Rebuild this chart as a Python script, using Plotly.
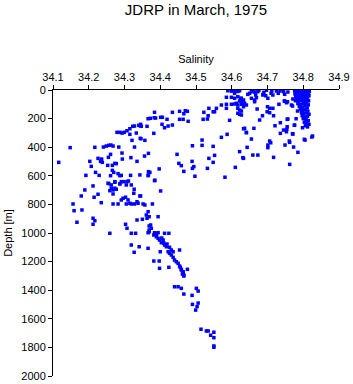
import plotly.graph_objects as go

title_text = "JDRP in March, 1975"
x_title = "Salinity"
y_title = "Depth [m]"

x_ticks = [34.1, 34.2, 34.3, 34.4, 34.5, 34.6, 34.7, 34.8, 34.9]
x_tick_labels = ["34.1", "34.2", "34.3", "34.4", "34.5", "34.6", "34.7", "34.8", "34.9"]
y_ticks = [0, 200, 400, 600, 800, 1000, 1200, 1400, 1600, 1800, 2000]

# Intermediate water (left branch, 200-700 m)
sal_mid = [34.116, 34.148, 34.217, 34.241, 34.249, 34.256, 34.262, 34.268, 34.284, 34.279,
           34.287, 34.293, 34.299, 34.307, 34.315, 34.323, 34.328, 34.340, 34.345, 34.363,
           34.366, 34.315, 34.333, 34.321, 34.346, 34.357, 34.328, 34.356, 34.367, 34.293,
           34.294, 34.318, 34.335, 34.226, 34.236, 34.238, 34.233, 34.255, 34.261, 34.266,
           34.273, 34.277, 34.253, 34.203, 34.207, 34.219, 34.192, 34.229, 34.266, 34.270,
           34.261, 34.282, 34.287, 34.291, 34.317, 34.343, 34.367, 34.256, 34.273, 34.287,
           34.298, 34.311, 34.367]
dep_mid = [506, 403, 401, 399, 392, 387, 385, 392, 399, 296,
           296, 301, 296, 285, 271, 254, 252, 247, 252, 254,
           201, 310, 301, 352, 341, 352, 399, 462, 443, 441,
           483, 473, 499, 478, 483, 506, 499, 471, 450, 527,
           513, 515, 527, 499, 534, 576, 597, 597, 562, 576,
           599, 585, 599, 597, 597, 594, 594, 655, 645, 655,
           641, 636, 571]

# Upper-middle scatter (34.35-34.65, 0-650 m)
sal_up = [34.589, 34.599, 34.608, 34.617, 34.622, 34.608, 34.585, 34.599, 34.608, 34.617,
          34.625, 34.645, 34.622, 34.613, 34.631, 34.571, 34.585, 34.599, 34.608, 34.617,
          34.627, 34.636, 34.641, 34.585, 34.617, 34.622, 34.627, 34.617, 34.622, 34.536,
          34.557, 34.522, 34.548, 34.552, 34.534, 34.520, 34.532, 34.384, 34.434, 34.454,
          34.470, 34.476, 34.466, 34.372, 34.383, 34.387, 34.401, 34.406, 34.419, 34.454,
          34.464, 34.478, 34.345, 34.347, 34.405, 34.412, 34.422, 34.434, 34.594, 34.633,
          34.641, 34.344, 34.382, 34.587, 34.571, 34.517, 34.490, 34.517, 34.548, 34.643,
          34.622, 34.447, 34.536, 34.552, 34.548, 34.633, 34.489, 34.452, 34.459, 34.490,
          34.494, 34.532, 34.610, 34.397, 34.466, 34.371, 34.366, 34.497, 34.581, 34.385]
dep_up = [5, 8, 6, 10, 5, 23, 51, 51, 58, 47,
          58, 30, 77, 93, 82, 105, 100, 100, 98, 105,
          100, 93, 105, 128, 128, 140, 147, 163, 170, 128,
          128, 156, 152, 152, 180, 205, 203, 156, 156, 149,
          145, 149, 166, 198, 194, 196, 191, 191, 205, 205,
          205, 219, 240, 254, 240, 264, 252, 245, 212, 271,
          299, 338, 303, 310, 331, 350, 390, 387, 394, 401,
          431, 450, 478, 457, 506, 478, 499, 513, 529, 548,
          536, 548, 541, 552, 569, 576, 599, 603, 610, 631]

# Upper right (34.62-34.78, 0-520 m)
sal_ur = [34.650, 34.655, 34.662, 34.665, 34.667, 34.673, 34.676, 34.688, 34.690, 34.697,
          34.710, 34.712, 34.725, 34.730, 34.735, 34.745, 34.748, 34.627, 34.633, 34.627,
          34.633, 34.655, 34.664, 34.669, 34.664, 34.687, 34.695, 34.701, 34.715, 34.627,
          34.671, 34.686, 34.700, 34.706, 34.699, 34.706, 34.715, 34.717, 34.732, 34.748,
          34.756, 34.767, 34.771, 34.755, 34.736, 34.721, 34.678, 34.636, 34.662, 34.641,
          34.755, 34.745, 34.753, 34.736, 34.776, 34.771, 34.762, 34.655, 34.706, 34.709,
          34.701, 34.701, 34.749, 34.773, 34.785, 34.805, 34.824, 34.631, 34.659, 34.673,
          34.717, 34.762, 34.757, 34.747, 34.753, 34.770, 34.784, 34.757, 34.780, 34.775,
          34.754, 34.798, 34.761, 34.803, 34.826, 34.770]
dep_ur = [23, 12, 7, 16, 35, 12, 2, 30, 16, 2,
          23, 7, 7, 23, 7, 12, 30, 58, 70, 82,
          117, 58, 70, 54, 82, 35, 40, 58, 35, 175,
          133, 180, 117, 128, 152, 159, 128, 180, 100, 77,
          82, 105, 63, 205, 229, 250, 210, 268, 268, 296,
          257, 280, 292, 303, 245, 308, 366, 343, 357, 369,
          385, 403, 385, 399, 436, 350, 329, 473, 455, 455,
          471, 520, 14, 77, 89, 112, 147, 203, 201, 247,
          275, 264, 357, 345, 322, 306]

# Near-surface dense column around 34.8
sal_col = [34.776, 34.783, 34.790, 34.797, 34.803, 34.810, 34.817, 34.778, 34.786, 34.794,
           34.801, 34.808, 34.815, 34.777, 34.784, 34.792, 34.799, 34.806, 34.813, 34.779,
           34.788, 34.796, 34.803, 34.811, 34.816, 34.781, 34.790, 34.798, 34.806, 34.812,
           34.778, 34.787, 34.795, 34.802, 34.809, 34.815, 34.785, 34.793, 34.800, 34.807,
           34.814, 34.789, 34.797, 34.804, 34.811, 34.792, 34.799, 34.806, 34.813, 34.795,
           34.802, 34.810, 34.816, 34.797, 34.805, 34.812, 34.800, 34.808, 34.814, 34.803,
           34.810, 34.816, 34.806, 34.812]
dep_col = [5, 3, 5, 2, 6, 4, 8, 15, 18, 12,
           16, 14, 20, 28, 32, 26, 30, 34, 28, 45,
           42, 48, 44, 50, 40, 58, 62, 56, 64, 60,
           75, 80, 72, 78, 84, 76, 95, 100, 92, 98,
           104, 115, 120, 112, 125, 135, 142, 138, 148, 158,
           165, 160, 170, 180, 188, 184, 200, 208, 215, 225,
           232, 240, 250, 258]

# Deep branch (600-1300 m)
sal_deep = [34.189, 34.212, 34.179, 34.215, 34.226, 34.235, 34.156, 34.159, 34.181, 34.167,
            34.212, 34.217, 34.212, 34.254, 34.263, 34.273, 34.287, 34.291, 34.305, 34.307,
            34.319, 34.327, 34.263, 34.268, 34.273, 34.277, 34.268, 34.259, 34.296, 34.291,
            34.303, 34.310, 34.315, 34.326, 34.343, 34.268, 34.282, 34.305, 34.319, 34.328,
            34.335, 34.352, 34.338, 34.366, 34.361, 34.363, 34.369, 34.335, 34.350, 34.303,
            34.307, 34.259, 34.319, 34.331, 34.369, 34.369, 34.319, 34.341, 34.327, 34.366,
            34.384, 34.401, 34.345, 34.378, 34.357, 34.394, 34.373, 34.375, 34.369, 34.366,
            34.384, 34.394, 34.382, 34.389, 34.394, 34.398, 34.408, 34.403, 34.412, 34.417,
            34.426, 34.431, 34.422, 34.426, 34.436, 34.431, 34.436, 34.440, 34.445, 34.450,
            34.454, 34.456, 34.459, 34.464, 34.466, 34.412, 34.424, 34.454, 34.400, 34.382,
            34.397, 34.398, 34.424, 34.476, 34.390, 34.404, 34.410, 34.419]
dep_deep = [699, 671, 741, 750, 729, 788, 797, 844, 839, 925,
            897, 914, 939, 652, 664, 641, 657, 641, 664, 641,
            664, 694, 687, 699, 687, 694, 727, 704, 757, 769,
            750, 769, 792, 722, 741, 797, 797, 797, 797, 797,
            781, 797, 792, 851, 874, 897, 886, 909, 904, 939,
            967, 1002, 1002, 1002, 991, 951, 1084, 1096, 1135, 1107,
            634, 706, 741, 797, 804, 886, 944, 967, 979, 998,
            998, 998, 1014, 1026, 1037, 1049, 1049, 1068, 1084, 1096,
            1100, 1119, 1131, 1142, 1131, 1154, 1170, 1189, 1201, 1212,
            1231, 1240, 1254, 1271, 1294, 1002, 1002, 1119, 1131, 1196,
            1196, 1247, 1240, 1254, 1007, 1035, 1070, 1077]

# Bottom (1250-1800 m)
sal_bot = [34.459, 34.464, 34.466, 34.462, 34.440, 34.450, 34.459, 34.466, 34.501, 34.506,
           34.489, 34.506, 34.490, 34.503, 34.499, 34.514, 34.529, 34.534, 34.550, 34.541,
           34.550, 34.550, 34.550]
dep_bot = [1259, 1282, 1301, 1287, 1376, 1376, 1387, 1427, 1387, 1406,
           1436, 1490, 1499, 1515, 1539, 1673, 1685, 1685, 1694, 1715,
           1732, 1790, 1799]

salinity = sal_mid + sal_up + sal_ur + sal_col + sal_deep + sal_bot
depth = dep_mid + dep_up + dep_ur + dep_col + dep_deep + dep_bot

FONT = "Liberation Sans, Arial, Helvetica, sans-serif"

fig = go.Figure(go.Scatter(
    x=salinity, y=depth, mode="markers",
    marker=dict(symbol="square", size=3.5, color="#0000ff", line=dict(width=0)),
    showlegend=False, hoverinfo="x+y",
))

fig.update_layout(
    width=353, height=384,
    margin=dict(l=53, r=14, t=90, b=8, autoexpand=False),
    paper_bgcolor="white", plot_bgcolor="white",
    font=dict(family=FONT, size=11, color="black"),
    title=dict(text=title_text, x=0.5, xref="paper", xanchor="center",
               y=1 - 10 / 384, yref="container", yanchor="middle",
               font=dict(family=FONT, size=15, color="black")),
)

fig.update_xaxes(
    side="top", range=[34.1, 34.9], tickvals=x_ticks, ticktext=x_tick_labels,
    automargin=False,
    showgrid=False, zeroline=False, showline=True, linecolor="black", linewidth=1,
    ticks="outside", ticklen=4, tickcolor="black", tickwidth=1,
    tickfont=dict(family=FONT, size=11, color="black"),
    title=dict(text=x_title, font=dict(family=FONT, size=11, color="black"), standoff=4),
)
fig.update_yaxes(
    range=[2000, 0], tickvals=y_ticks, ticktext=[str(v) for v in y_ticks],
    automargin=False,
    showgrid=False, zeroline=False, showline=True, linecolor="black", linewidth=1,
    ticks="outside", ticklen=4, tickcolor="black", tickwidth=1,
    tickfont=dict(family=FONT, size=11, color="black"),
    title=dict(text=y_title, font=dict(family=FONT, size=11, color="black"), standoff=6),
)

fig.write_html("out.html")
